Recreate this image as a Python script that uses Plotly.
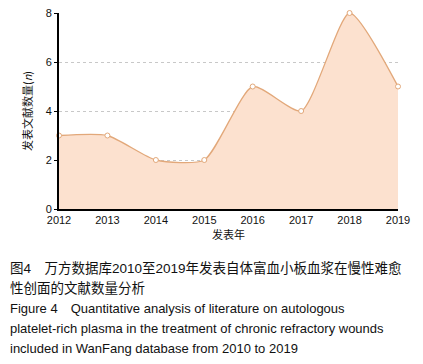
import plotly.graph_objects as go

years = [2012, 2013, 2014, 2015, 2016, 2017, 2018, 2019]
counts = [3, 3, 2, 2, 5, 4, 8, 5]
y_ticks = [0, 2, 4, 6, 8]

caption_lines = [
    "图4　万方数据库2010至2019年发表自体富血小板血浆在慢性难愈",
    "性创面的文献数量分析",
    "Figure 4　Quantitative analysis of literature on autologous",
    "platelet-rich plasma in the treatment of chronic refractory wounds",
    "included in WanFang database from 2010 to 2019",
]
caption_sizes = [13.5, 13.5, 13, 13, 13]

W, H = 423, 364
L, R, T, B = 59, 25, 13, 155
ph = H - T - B

fig = go.Figure()
fig.add_trace(go.Scatter(
    x=years, y=counts, mode="lines+markers",
    line=dict(shape="spline", smoothing=0.6, color="#E2A87A", width=1.3),
    fill="tozeroy", fillcolor="#FCE1CF",
    marker=dict(size=5, color="white", line=dict(color="#E2A87A", width=1)),
    hoverinfo="skip", showlegend=False, cliponaxis=False,
))

fig.update_layout(
    width=W, height=H,
    margin=dict(l=L, r=R, t=T, b=B, autoexpand=False),
    paper_bgcolor="white", plot_bgcolor="white",
    font=dict(family="Liberation Sans, Noto Sans CJK SC, sans-serif", size=11, color="#111"),
    xaxis=dict(
        range=[2012, 2019], tickvals=years, ticktext=[str(y) for y in years],
        showgrid=False, showline=True, linecolor="black", linewidth=2,
        ticks="", zeroline=False, automargin=False,
        title=dict(text="发表年", font=dict(size=11, family="Noto Sans CJK SC"), standoff=6),
        tickfont=dict(size=11),
    ),
    yaxis=dict(
        range=[0, 8], tickvals=y_ticks,
        showgrid=True, gridcolor="#C8C8C8", griddash="dot", gridwidth=1,
        showline=True, linecolor="black", linewidth=2,
        ticks="outside", ticklen=3, tickcolor="black", zeroline=False, automargin=False,
        title=dict(text="发表文献数量(<i>n</i>)", font=dict(size=11, family="Noto Sans CJK SC"), standoff=11),
        tickfont=dict(size=11),
    ),
)

ys = [268, 288, 308, 328, 348]
for txt, yp, fs in zip(caption_lines, ys, caption_sizes):
    fig.add_annotation(
        text=txt, xref="paper", yref="paper",
        x=(8 - L) / (W - L - R), y=(H - B - yp) / ph,
        xanchor="left", yanchor="middle", showarrow=False,
        font=dict(size=fs, family="Liberation Sans, Noto Sans CJK SC", color="#111"),
    )

fig.write_html("out.html", config={"displayModeBar": False, "staticPlot": True},
               post_script="document.body.style.margin='0px';")
